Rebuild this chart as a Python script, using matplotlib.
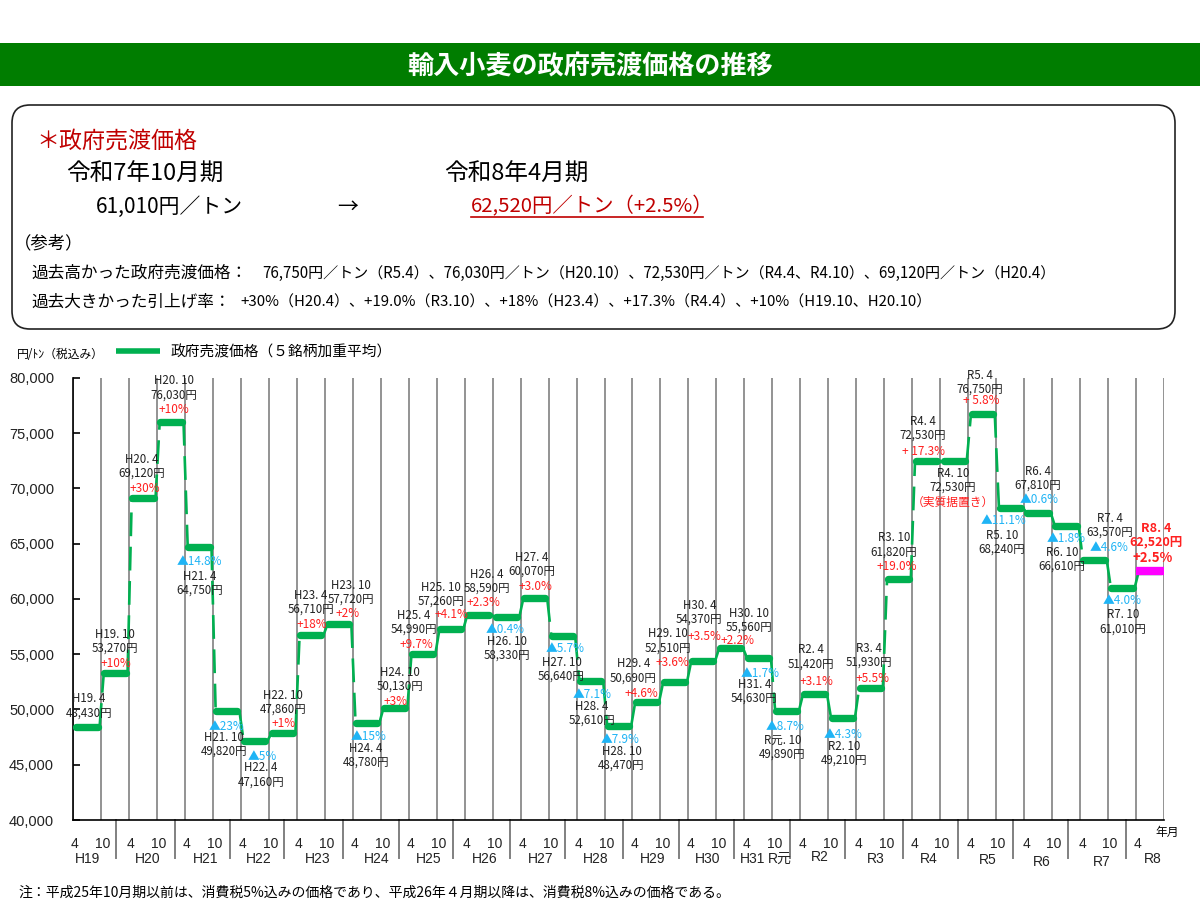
import matplotlib
matplotlib.use("Agg")
import matplotlib.pyplot as plt
from matplotlib.patches import FancyBboxPatch, Rectangle

JP = ["Noto Sans CJK JP", "DejaVu Sans"]
LAT = ["Liberation Sans", "Noto Sans CJK JP"]
plt.rcParams["font.family"] = JP

# --- data
periods = ["H19. 4", "H19. 10", "H20. 4", "H20. 10", "H21. 4", "H21. 10", "H22. 4", "H22. 10",
           "H23. 4", "H23. 10", "H24. 4", "H24. 10", "H25. 4", "H25. 10", "H26. 4", "H26. 10",
           "H27. 4", "H27. 10", "H28. 4", "H28. 10", "H29. 4", "H29. 10", "H30. 4", "H30. 10",
           "H31. 4", "R元. 10", "R2. 4", "R2. 10", "R3. 4", "R3. 10", "R4. 4", "R4. 10",
           "R5. 4", "R5. 10", "R6. 4", "R6. 10", "R7. 4", "R7. 10", "R8. 4"]
prices = [48430, 53270, 69120, 76030, 64750, 49820, 47160, 47860,
          56710, 57720, 48780, 50130, 54990, 57260, 58590, 58330,
          60070, 56640, 52610, 48470, 50690, 52510, 54370, 55560,
          54630, 49890, 51420, 49210, 51930, 61820, 72530, 72530,
          76750, 68240, 67810, 66610, 63570, 61010, 62520]
changes = ["", "+10%", "+30%", "+10%", "▲14.8%", "▲23%", "▲5%", "+1%",
           "+18%", "+2%", "▲15%", "+3%", "+9.7%", "+4.1%", "+2.3%", "▲0.4%",
           "+3.0%", "▲5.7%", "▲7.1%", "▲7.9%", "+4.6%", "+3.6%", "+3.5%", "+2.2%",
           "▲1.7%", "▲8.7%", "+3.1%", "▲4.3%", "+5.5%", "+19.0%", "+ 17.3%", "（実質据置き）",
           "+ 5.8%", "▲11.1%", "▲0.6%", "▲1.8%", "▲4.6%", "▲4.0%", "+2.5%"]
month_ticks = ["4", "10"] * 19 + ["4"]
y_ticks = [40000, 45000, 50000, 55000, 60000, 65000, 70000, 75000, 80000]
years = ["H19", "H20", "H21", "H22", "H23", "H24", "H25", "H26", "H27", "H28", "H29",
         "H30", "H31", "R元", "R2", "R3", "R4", "R5", "R6", "R7", "R8"]

# --- layout, pixels
label_off = [(2, 21), (0, 32), (-1, 32), (3, 34), (1, -37), (-3, -33), (6, -34), (0, 31),
             (0, 33), (12, 32), (-1, -32), (5, 29), (-9, 32), (-10, 35), (8, 33), (0, -31),
             (-3, 34), (-1, -33), (1, -33), (3, -32), (-13, 31), (-7, 41), (-3, 49), (19, 28),
             (-4, -33), (-4, -37), (-3, 37), (2, -35), (-1, 33), (-4, 34), (-3, 32), (-1, -20),
             (-2, 32), (-8, -34), (0, 34), (-4, -33), (16, 34), (1, -34), (6, 36)]
change_off = [(0, 0), (1, 10), (2, 10), (3, 12), (1, -15), (0, -15), (7, -16), (1, 10),
              (1, 11), (9, 11), (2, -14), (1, 7), (-6, 10), (1, 15), (5, 12), (-1, -12),
              (1, 12), (3, -12), (2, -14), (2, -13), (-5, 8), (-2, 19), (2, 25), (7, 8),
              (2, -15), (-1, -16), (2, 12), (1, -16), (2, 10), (-1, 12), (-3, 9), (-1, -42),
              (-1, 13), (-7, -13), (1, 13), (0, -13), (15, 12), (0, -13), (3, 13)]
year_x = [88, 148, 206, 259, 318, 377, 429, 485, 541, 596, 653, 708, 753, 780,
          820, 876, 929, 988, 1042, 1102, 1153]
year_y = [859] * 12 + [859, 859, 857, 859, 859, 860, 862, 862, 859]
year_sep = [116, 175, 230, 284, 343, 399, 453, 510, 565, 623, 679, 734, 790, 845, 903, 958, 1013, 1068, 1126]

GREEN = "#00B050"
RED = "#FF2020"
BLUE = "#1FB4F5"
GRID = "#808080"

fig = plt.figure(figsize=(12, 9), dpi=100)

# page furniture in pixel coordinates
page = fig.add_axes([0, 0, 1, 1])
page.set_xlim(0, 1200)
page.set_ylim(900, 0)
page.axis("off")

page.add_patch(Rectangle((0, 43), 1200, 43, color="#007D00", lw=0))
page.text(590, 67, "輸入小麦の政府売渡価格の推移", color="white", fontsize=18.8, fontweight="bold",
          ha="center", va="center")
page.add_patch(FancyBboxPatch((28, 121), 1131, 192, boxstyle="round,pad=16,rounding_size=18",
                              fc="white", ec="#222222", lw=1.2))


def box_text(x, y, s, size, color="black"):
    # the CJK font sits a little high with va=center
    page.text(x, y + 2, s, fontsize=size, color=color, ha="left", va="center")


box_text(36, 139, "＊政府売渡価格", 16.6, "#C00000")
box_text(66, 172, "令和7年10月期", 17)
box_text(444, 172, "令和8年4月期", 17)
box_text(96, 205, "61,010円／トン", 15)
box_text(337, 205, "→", 15)
box_text(471, 205, "62,520円／トン（+2.5%）", 14.7, "#C00000")
page.plot([471, 703], [217, 217], color="#C00000", lw=1.2)
box_text(14, 241, "（参考）", 12.5)
box_text(31, 271, "過去高かった政府売渡価格：", 12)
box_text(262, 271, "76,750円／トン（R5.4）、76,030円／トン（H20.10）、72,530円／トン（R4.4、R4.10）、69,120円／トン（H20.4）", 10.85)
box_text(31, 300, "過去大きかった引上げ率：", 12)
box_text(240, 300, "+30%（H20.4）、+19.0%（R3.10）、+18%（H23.4）、+17.3%（R4.4）、+10%（H19.10、H20.10）", 10.8)

page.text(17, 355, "円/ﾄﾝ（税込み）", fontsize=8.5, va="center")
box_text(18, 891, "注：平成25年10月期以前は、消費税5%込みの価格であり、平成26年４月期以降は、消費税8%込みの価格である。", 10)

for x in year_sep:
    page.plot([x, x], [820, 858], color=GRID, lw=1.4)
for x, y, s in zip(year_x, year_y, years):
    page.text(x, y, s, family=LAT, fontsize=10, ha="center", va="center", color="#222222")
page.text(1167, 832, "年月", fontsize=8.5, ha="center", va="center")

# chart
ax = fig.add_axes([73 / 1200, 1 - 820 / 900, 1091 / 1200, 442 / 900], facecolor="none")
ax.set_xlim(0, len(prices))
ax.set_ylim(40000, 80000)
for s in ["top", "right"]:
    ax.spines[s].set_visible(False)
ax.spines["left"].set_linewidth(1.2)
ax.spines["bottom"].set_linewidth(1.2)
ax.set_yticks(y_ticks)
ax.set_yticklabels([f"{v:,}" for v in y_ticks], family=LAT, fontsize=10.5, color="#222222")
ax.tick_params(axis="y", direction="in", length=5, width=1.2, pad=13.6)
ax.set_xticks(range(len(prices) + 1))
ax.set_xticklabels([])
ax.tick_params(axis="x", length=0)
ax.grid(axis="x", color=GRID, lw=1.2)
ax.set_axisbelow(True)

for i, s in enumerate(month_ticks):
    ax.annotate(s, (i + 0.07, 40000), xytext=(0, -17), textcoords="offset points",
                family=LAT, fontsize=10, ha="center", va="center", color="#222222", annotation_clip=False)

# dashed risers first, then the thick levels on top
for i in range(len(prices) - 1):
    ax.plot([i + 0.95, i + 1.1], [prices[i], prices[i + 1]], color=GREEN, lw=1.9,
            dashes=(9, 4), zorder=3)
for i, v in enumerate(prices):
    ax.plot([i + 0.12, i + 0.88], [v, v], color=GREEN, lw=5.3, solid_capstyle="round",
            zorder=4, label="政府売渡価格（５銘柄加重平均）" if i == 0 else None)
ax.plot([len(prices) - 1, len(prices)], [prices[-1], prices[-1]], color="#FF00FF", lw=6,
        solid_capstyle="butt", zorder=5)

leg = ax.legend(loc="center left", bbox_to_anchor=(116 / 1200, 1 - 352 / 900),
                bbox_transform=fig.transFigure, frameon=False, fontsize=10.6,
                handlelength=3.0, borderpad=0, borderaxespad=0, handletextpad=0.68)
leg.get_lines()[0].set_linewidth(4)
leg.get_lines()[0].set_solid_capstyle("butt")

PX = 0.72  # points per pixel at dpi 100
for i, (name, v) in enumerate(zip(periods, prices)):
    last = i == len(prices) - 1
    ax.annotate(f"{name}\n{v:,}円", (i + 0.5, v),
                xytext=(label_off[i][0] * PX, label_off[i][1] * PX), textcoords="offset points",
                fontsize=9 if last else 8.3, color=RED if last else "#222222",
                fontweight="bold" if last else "normal", ha="center", va="center",
                linespacing=1.08, zorder=6)
    c = changes[i]
    if not c:
        continue
    col = BLUE if c.startswith("▲") else RED
    ax.annotate(c, (i + 0.5, v),
                xytext=(change_off[i][0] * PX, change_off[i][1] * PX), textcoords="offset points",
                fontsize=9.5 if last else 8.5, color=col, fontweight="bold" if last else "normal",
                ha="center", va="center", zorder=6)

fig.savefig("out.png", dpi=100)
